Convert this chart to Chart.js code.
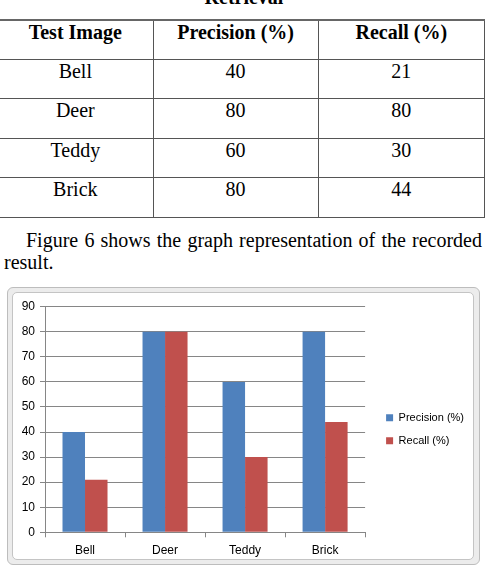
<!DOCTYPE html>
<html>
<head>
<meta charset="utf-8">
<script src="https://cdn.jsdelivr.net/npm/chart.js@4.4.1/dist/chart.umd.min.js"></script>
<style>
body{margin:0;width:488px;height:566px;overflow:hidden;position:relative;background:#fff;font-family:"Liberation Serif","Times New Roman",serif;color:#000}
#caption{position:absolute;left:0;width:488px;top:-13px;text-align:center;font-weight:bold;font-size:20px;line-height:20px}
table{position:absolute;left:-3px;top:19px;border-collapse:collapse;table-layout:fixed;font-size:20px;line-height:20px}
table tr:first-child td{border-top:2px solid #666}
td{border:1px solid #555;text-align:center;vertical-align:top;padding:1px 0 0 0;box-sizing:border-box}
.para{position:absolute;left:4px;width:478px;font-size:20px;line-height:22px}
#frame{position:absolute;left:7px;top:287px;width:471px;height:276px;background:#ececec;border:1px solid #bdbdbd;border-radius:6px}
#inner{position:absolute;left:12px;top:292px;width:460px;height:266px;background:#fff;border:1px solid #c4c4c4;border-radius:5px}
#box{position:absolute;left:12px;top:292px;width:462px;height:268px}
</style>
</head>
<body>
<div id="caption">Retrieval</div>
<table>
  <colgroup><col style="width:158px"><col style="width:167px"><col style="width:169px"></colgroup>
  <tr style="height:39px"><td><b>Test Image</b></td><td><b>Precision (%)</b></td><td><b>Recall (%)</b></td></tr>
  <tr style="height:39px"><td>Bell</td><td>40</td><td>21</td></tr>
  <tr style="height:40px"><td>Deer</td><td>80</td><td>80</td></tr>
  <tr style="height:39px"><td>Teddy</td><td>60</td><td>30</td></tr>
  <tr style="height:40px"><td>Brick</td><td>80</td><td>44</td></tr>
</table>
<div class="para" style="top:229px;text-align:justify;text-align-last:justify;"><span style="padding-left:22px"></span>Figure 6 shows the graph representation of the recorded</div>
<div class="para" style="top:251px;">result.</div>
<div id="frame"></div>
<div id="inner"></div>
<div id="box"><canvas id="resultChart"></canvas></div>
<script>
// values
let images = ['Bell', 'Deer', 'Teddy', 'Brick'];
let precision = [40, 80, 60, 80];
let recall = [21, 80, 30, 44];
let yTicks = [0, 10, 20, 30, 40, 50, 60, 70, 80, 90];

let blue = '#4F81BD';
let red = '#C0504D';
let gridColor = '#868686';
let tickFont = {family: '"Liberation Sans", Arial, sans-serif', size: 12};
let legendFont = {family: '"Liberation Sans", Arial, sans-serif', size: 11};

const ctx = document.getElementById('resultChart').getContext('2d');

let resultChart = new Chart(ctx, {
    type: 'bar',
    data: {
        labels: images,
        datasets: [{
            label: 'Precision (%)',
            data: precision,
            backgroundColor: blue,
            borderWidth: 0,
            categoryPercentage: 0.5625,
            barPercentage: 1
        }, {
            label: 'Recall (%)',
            data: recall,
            backgroundColor: red,
            borderWidth: 0,
            categoryPercentage: 0.5625,
            barPercentage: 1
        }]
    },
    options: {
        responsive: true,
        maintainAspectRatio: false,
        animation: false,
        layout: {padding: {top: 14.7, bottom: 0, left: 0, right: 0}},
        plugins: {
            tooltip: {enabled: false},
            legend: {
                position: 'right',
                align: 'start',
                maxWidth: 140,
                // empty title only pushes the items down to the middle
                title: {display: true, text: '', font: {size: 10}, padding: {top: 81.5, bottom: 0}},
                labels: {
                    boxWidth: 7,
                    boxHeight: 7,
                    padding: 12,
                    color: '#000',
                    font: legendFont
                }
            }
        },
        scales: {
            x: {
                grid: {offset: true, drawOnChartArea: false, drawTicks: true, tickLength: 5, color: gridColor},
                border: {color: gridColor},
                ticks: {color: '#000', font: tickFont, padding: 6, maxRotation: 0},
                afterFit: (s) => { s.height = 27.7; }
            },
            y: {
                min: 0,
                max: 90,
                afterBuildTicks: (s) => { s.ticks = yTicks.map(v => ({value: v})); },
                grid: {color: gridColor, tickLength: 5},
                border: {color: gridColor},
                ticks: {color: '#000', font: tickFont, padding: 5},
                afterFit: (s) => { s.width = 33; }
            },
            // empty axis that only keeps the gap between plot and legend
            gap: {
                position: 'right',
                display: true,
                grid: {display: false},
                border: {display: false},
                ticks: {display: false},
                afterFit: (s) => { s.width = 9; }
            }
        }
    }
});
</script>
</body>
</html>
